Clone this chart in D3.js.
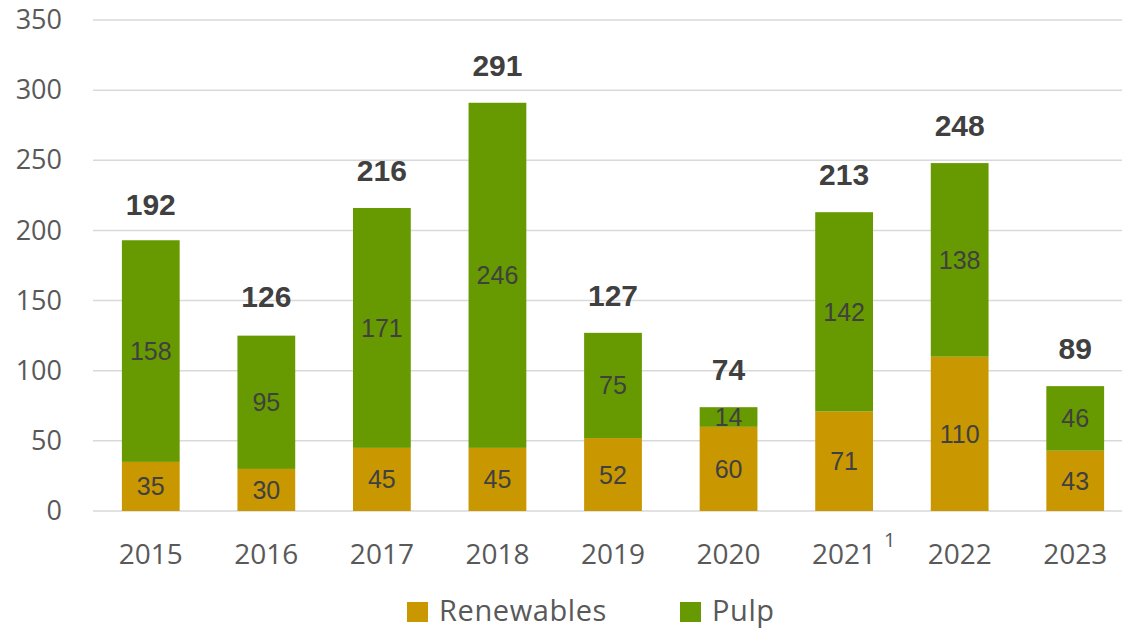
<!DOCTYPE html>
<html><head><meta charset="utf-8">
<script src="https://cdn.jsdelivr.net/npm/d3@7"></script>
<style>body{margin:0;background:#fff}svg{display:block}</style>
</head><body>
<svg id="c" width="1125" height="630"></svg>
<script>
const years = ["2015","2016","2017","2018","2019","2020","2021","2022","2023"];
const renewables = [35,30,45,45,52,60,71,110,43];
const pulp = [158,95,171,246,75,14,142,138,46];
const totals = [192,126,216,291,127,74,213,248,89];
const yTicks = [0,50,100,150,200,250,300,350];
const seriesNames = ["Renewables","Pulp"];
const colors = ["#C99700","#669A00"];

const svg = d3.select("#c");
const axisFont = "'Open Sans', 'Noto Sans', sans-serif";
const labelFont = "'Liberation Sans', Arial, sans-serif";
const plotLeft = 93, plotRight = 1133, plotTop = 20, plotBottom = 511;
const x = d3.scaleBand().domain(years).range([plotLeft,plotRight]).paddingInner(0.5).paddingOuter(0.25);
const y = d3.scaleLinear().domain([0,350]).range([plotBottom,plotTop]);

// gridlines
svg.append("g").selectAll("line").data(yTicks).join("line")
  .attr("x1",plotLeft).attr("x2",1122)
  .attr("y1",d=>y(d)).attr("y2",d=>y(d))
  .attr("stroke","#d9d9d9").attr("stroke-width",1.5);

// y axis labels
const yAxis = d3.axisLeft(y).tickValues(yTicks).tickSize(0).tickPadding(0);
const ya = svg.append("g").attr("transform",`translate(62,0)`).call(yAxis);
ya.select(".domain").remove();
ya.selectAll("text").attr("font-family",axisFont).attr("font-size",27).attr("fill","#595959");

// stacked bars
const data = years.map((yr,i)=>({year:yr, Renewables:renewables[i], Pulp:pulp[i], total:totals[i]}));
const stack = d3.stack().keys(seriesNames)(data);
stack.forEach((s,si)=>{
  const g = svg.append("g");
  g.selectAll("rect").data(s).join("rect")
    .attr("x",d=>x(d.data.year)).attr("width",x.bandwidth())
    .attr("y",d=>y(d[1])).attr("height",d=>y(d[0])-y(d[1]))
    .attr("fill",colors[si]);
  g.selectAll("text").data(s).join("text")
    .attr("x",d=>x(d.data.year)+x.bandwidth()/2)
    .attr("y",d=>(y(d[0])+y(d[1]))/2)
    .attr("dy","0.36em")
    .attr("text-anchor","middle")
    .attr("font-family",labelFont)
    .attr("font-size",25).attr("fill","#404040")
    .text(d=>d[1]-d[0]);
});

// totals
svg.append("g").selectAll("text").data(data).join("text")
  .attr("x",d=>x(d.year)+x.bandwidth()/2)
  .attr("y",d=>y(d.total)-27)
  .attr("text-anchor","middle")
  .attr("font-family",labelFont)
  .attr("font-weight","bold")
  .attr("font-size",30).attr("fill","#404040")
  .text(d=>d.total);

// x axis labels
const xAxis = d3.axisBottom(x).tickSize(0).tickPadding(0);
const xa = svg.append("g").attr("transform",`translate(0,${plotBottom+33})`).call(xAxis);
xa.select(".domain").remove();
xa.selectAll("text").attr("font-family",axisFont).attr("font-size",28).attr("fill","#595959");
// superscript footnote
svg.append("text").attr("x",x("2021")+x.bandwidth()/2+40).attr("y",547)
  .attr("font-family",axisFont).attr("font-size",20).attr("fill","#595959").text("1");

// legend
const legendX = [407,680];
const lg = svg.append("g");
seriesNames.forEach((n,i)=>{
  lg.append("rect").attr("x",legendX[i]).attr("y",602).attr("width",21).attr("height",20).attr("fill",colors[i]);
  lg.append("text").attr("x",legendX[i]+32).attr("y",621)
    .attr("font-family",axisFont).attr("font-size",29).attr("letter-spacing",0.6).attr("fill","#595959").text(n);
});
</script>
</body></html>
